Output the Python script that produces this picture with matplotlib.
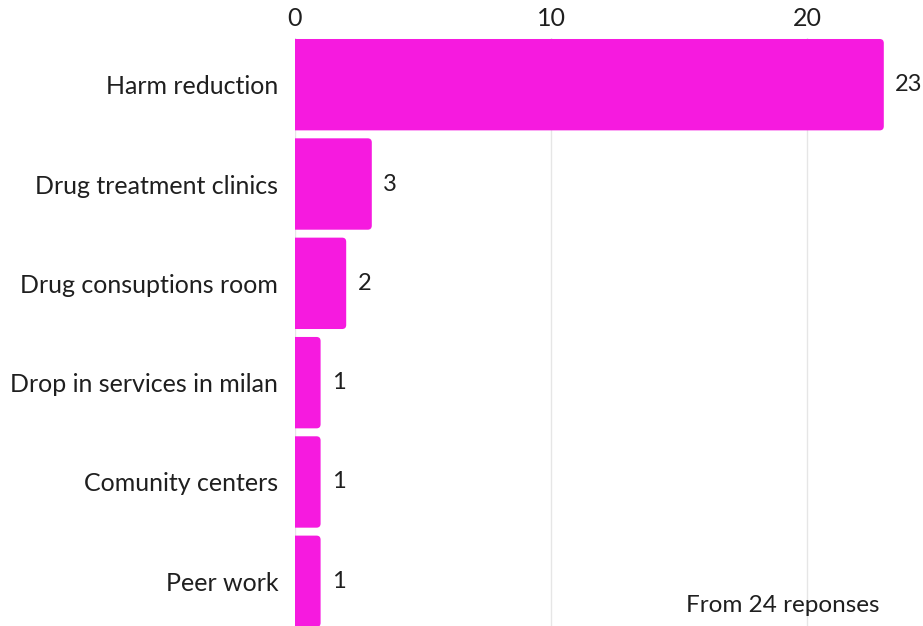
import matplotlib.pyplot as plt
from matplotlib.patches import FancyBboxPatch

categories = ["Harm reduction", "Drug treatment clinics", "Drug consuptions room",
              "Drop in services in milan", "Comunity centers", "Peer work"]
counts = [23, 3, 2, 1, 1, 1]
xticks = [0, 10, 20]
note = "From 24 reponses"

bar_color = "#f61adf"
text_color = "#1f1f1f"

plt.rcParams["font.family"] = ["Lato", "DejaVu Sans"]

fig = plt.figure(figsize=(9.23, 6.26), dpi=100)
ax = fig.add_axes([295 / 923, 0, 1 - 295 / 923, 1 - 38 / 626])

ax.set_xlim(0, (923 - 295) / 25.6)
ax.set_ylim(5.45, -0.47)

# rounded bars, left end pushed past x=0 so only the right corners show rounding
h = 0.92
rx = 0.16
for i, v in enumerate(counts):
    box = FancyBboxPatch((-0.5, i - h / 2), v + 0.5, h,
                         boxstyle=f"round,pad=0,rounding_size={rx}",
                         mutation_aspect=0.26, facecolor=bar_color,
                         edgecolor="none", zorder=3, clip_on=True)
    ax.add_patch(box)
    ax.text(v + 0.45, i, str(v), va="center", ha="left",
            fontsize=17, color=text_color, zorder=4)

ax.set_yticks(range(len(categories)))
ax.set_yticklabels(categories, fontsize=18, color=text_color)
ax.set_xticks(xticks)
ax.xaxis.tick_top()
ax.tick_params(axis="x", labelsize=18, colors=text_color, length=0, pad=6)
ax.tick_params(axis="y", length=0, pad=12)

ax.grid(axis="x", color="#e6e6e6", linewidth=1, zorder=0)
for s in ax.spines.values():
    s.set_visible(False)

fig.text(880 / 923, 1 - 605 / 626, note, ha="right", va="center",
         fontsize=17.5, color=text_color)

fig.savefig("out.png", dpi=100)
